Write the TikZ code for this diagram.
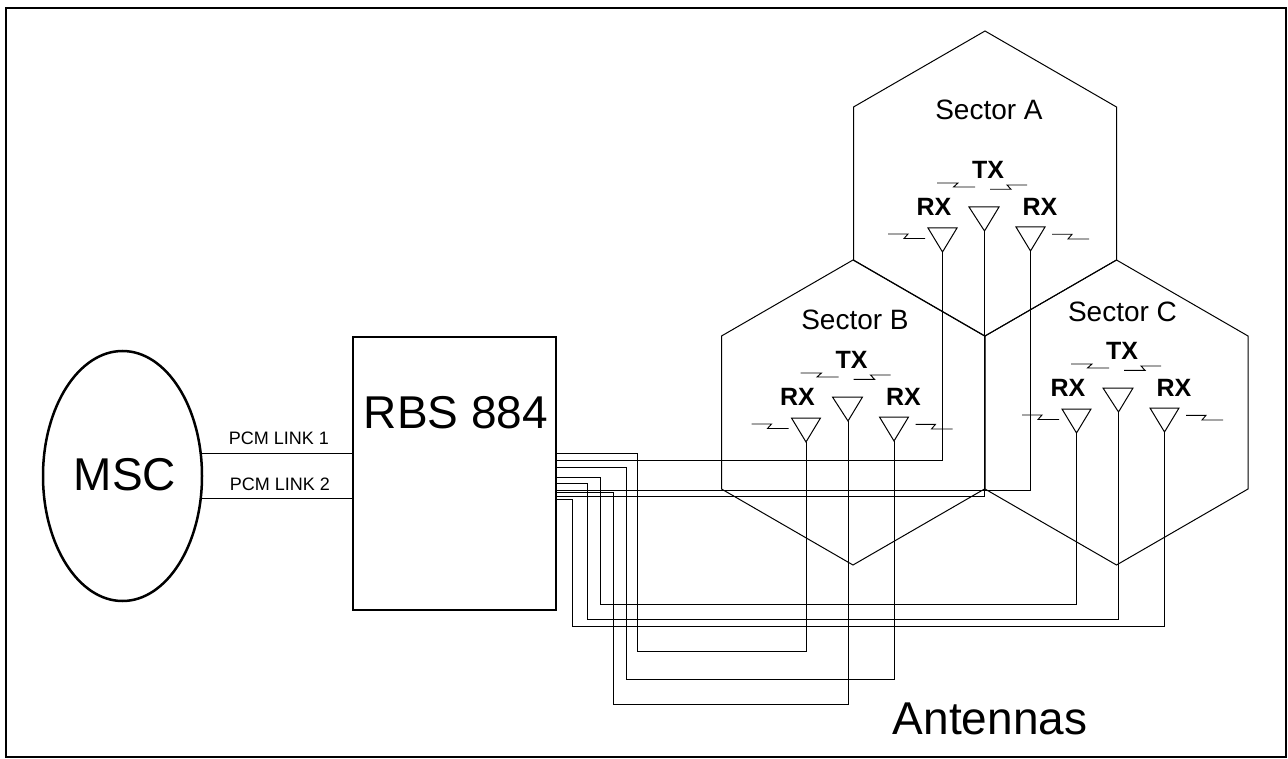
\documentclass[tikz,border=0pt]{standalone}
\usepackage{fontspec}
\usetikzlibrary{shapes.geometric}
\setmainfont{Liberation Sans}
\tikzset{
  every node/.style={inner sep=0pt,outer sep=0pt},
  thin line/.style={line width=1pt,line join=miter},
  frame line/.style={line width=2.6pt},
  box line/.style={line width=2.5pt},
  wire/.style={line width=1pt},
  zig/.style={line width=0.9pt},
  small label/.style={font=\fontsize{18}{20}\selectfont},
  mid label/.style={font=\fontsize{28}{31}\selectfont},
  big label/.style={font=\fontsize{46}{50}\selectfont},
  ant label/.style={font=\fontsize{25}{27}\selectfont\bfseries},
}
\newcommand{\hexcell}[2]{%
  \draw[thin line] (#1,#2) -- ++(131.5,76) -- ++(0,153) -- ++(-131.5,76) -- ++(-131.5,-76) -- ++(0,-153) -- cycle;
}
% #1 name prefix, #2 x shift, #3 y shift
\newcommand{\antgroup}[3]{%
  \begin{scope}[shift={(#2,#3)}]
    \node[ant label] (#1tx) at (988,169.5) {TX};
    \node[ant label] (#1rl) at (934,207) {RX};
    \node[ant label] (#1rr) at (1040,207) {RX};
    \draw[thin line] (969,207) -- (999,207) -- (984.5,231) coordinate (#1txa) -- cycle;
    \draw[thin line] (928,228) -- (957,228) -- (942.5,252) coordinate (#1rla) -- cycle;
    \draw[thin line] (1016,227) -- (1045,227) -- (1030.5,251) coordinate (#1rra) -- cycle;
    \draw[zig] (937,183) -- (958,183) -- (953.5,187) -- (975,187);
    \draw[zig] (990,189.3) -- (1011,189.3) -- (1007,185) -- (1027,185);
    \draw[zig] (888,234) -- (908,234) -- (904,238.5) -- (925,238.5);
    \draw[zig] (1052,234.3) -- (1072,234.3) -- (1068,239) -- (1089,239);
  \end{scope}
}
\newcommand{\wireU}[4]{\draw[wire] (rbs.east |- 0,#1) -| (#2,#3) -| (#4);}
\begin{document}
\begin{tikzpicture}[x=1pt,y=-1pt]
\useasboundingbox (0,0) rectangle (1288,759);
\fill[white] (0,0) rectangle (1288,759);
\draw[frame line] (6,8) rectangle (1286,757);
% hexagons
\hexcell{985}{31}
\hexcell{853}{260}
\hexcell{1116.5}{260}
\node[mid label] (seca) at (989,110) {Sector A};
\node[mid label] (secb) at (855,320) {Sector B};
\node[mid label] (secc) at (1122.5,312) {Sector C};
\antgroup{a}{0}{0}
\antgroup{b}{-136.5}{190}
\antgroup{c}{134}{181}
% MSC and RBS
\node[draw,box line,ellipse,minimum width=159pt,minimum height=250pt] (msc) at (122.5,476) {};
\node[big label] (mscl) at (125,475) {MSC};
\node[draw,box line,minimum width=203pt,minimum height=273pt] (rbs) at (454.5,473.5) {};
\node[big label] (rbsl) at (456,413) {RBS 884};
\node[small label] (l1) at (279,438) {PCM LINK 1};
\node[small label] (l2) at (280,484) {PCM LINK 2};
\node[big label] (ant) at (990,719) {Antennas};
\coordinate (m1) at (201,453); \coordinate (m2) at (201,498);
\draw[wire] (m1) -- (m1 -| rbs.west);
\draw[wire] (m2) -- (m2 -| rbs.west);
% wires
\wireU{453}{637}{651}{brla}
\wireU{467}{626}{679}{brra}
\wireU{477}{600}{604}{crla}
\wireU{483}{587}{619}{ctxa}
\wireU{492}{613}{704}{btxa}
\wireU{499}{572}{626}{crra}
\draw[wire] (rbs.east |- 0,460) -| (arla);
\draw[wire] (rbs.east |- 0,490) -| (arra);
\draw[wire] (rbs.east |- 0,496) -| (atxa);
\end{tikzpicture}
\end{document}
